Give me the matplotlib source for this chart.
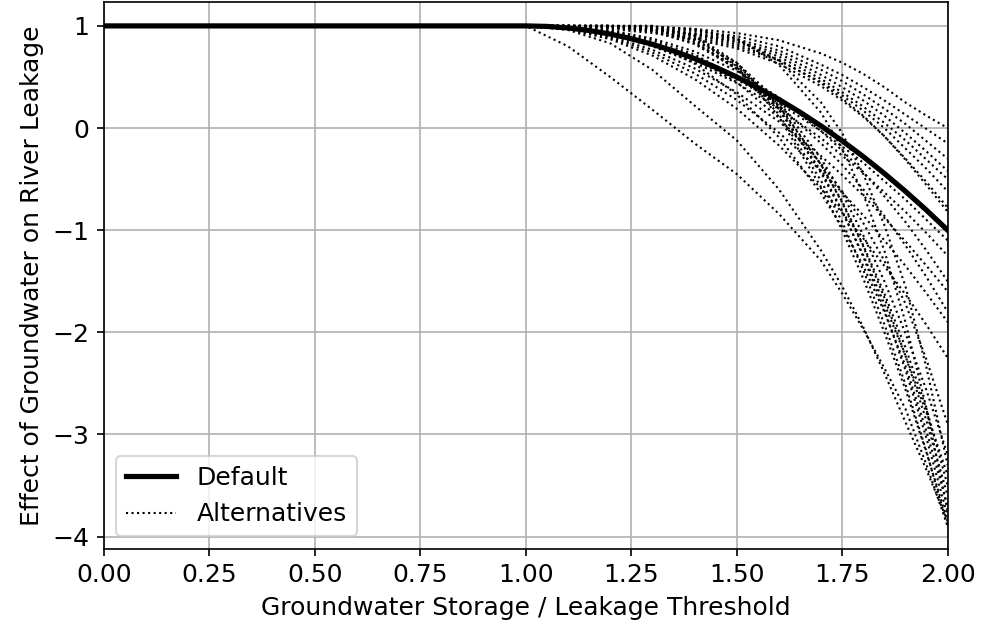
import matplotlib
matplotlib.use('Agg')
import matplotlib.pyplot as plt

# x positions (storage / threshold) at which curves were read
x_default = [0.0, 1.0, 1.05, 1.1, 1.15, 1.2, 1.25, 1.3, 1.35, 1.4, 1.45, 1.5,
             1.55, 1.6, 1.65, 1.7, 1.75, 1.8, 1.85, 1.9, 1.95, 2.0]
y_default = [1.0, 1.0, 0.995, 0.98, 0.955, 0.92, 0.875, 0.82, 0.755, 0.68, 0.595, 0.5,
             0.395, 0.28, 0.155, 0.02, -0.125, -0.28, -0.445, -0.62, -0.805, -1.0]

x_alt = [0.0, 1.0, 1.1, 1.2, 1.3, 1.4, 1.5, 1.6, 1.7, 1.75, 1.8, 1.85, 1.9, 1.95, 2.0]

# alternative curves
alt_a = [1, 1, 0.80, 0.50, 0.18, -0.15, -0.45, -0.84, -1.3, -1.62, -1.97, -2.35, -2.75, -3.3, -3.9]
alt_b = [1, 1, 0.96, 0.83, 0.57, 0.22, -0.12, -0.6, -1.2, -1.55, -1.95, -2.4, -2.88, -3.35, -3.85]

# gentle group, ends between 0 and -0.8
alt_u1 = [1, 1, 1, 1, 0.99, 0.97, 0.93, 0.86, 0.73, 0.64, 0.53, 0.40, 0.25, 0.12, 0.0]
alt_u2 = [1, 1, 1, 0.99, 0.98, 0.95, 0.9, 0.8, 0.62, 0.52, 0.4, 0.27, 0.13, -0.01, -0.15]
alt_u3 = [1, 1, 1, 0.99, 0.97, 0.93, 0.87, 0.76, 0.57, 0.46, 0.33, 0.19, 0.04, -0.13, -0.3]
alt_u4 = [1, 1, 0.995, 0.985, 0.96, 0.92, 0.85, 0.73, 0.52, 0.40, 0.27, 0.12, -0.05, -0.23, -0.42]
alt_u5 = [1, 1, 1, 0.99, 0.97, 0.92, 0.84, 0.70, 0.48, 0.35, 0.21, 0.05, -0.12, -0.31, -0.5]
alt_u6 = [1, 1, 0.995, 0.98, 0.95, 0.89, 0.80, 0.66, 0.45, 0.32, 0.17, 0.0, -0.2, -0.4, -0.62]
alt_u7 = [1, 1, 0.99, 0.97, 0.93, 0.87, 0.78, 0.63, 0.41, 0.27, 0.11, -0.08, -0.3, -0.53, -0.78]
alt_u8 = [1, 1, 1, 0.99, 0.96, 0.91, 0.82, 0.67, 0.44, 0.29, 0.12, -0.08, -0.31, -0.56, -0.82]

# middle group, ends between -1.1 and -2.3
alt_m1 = [1, 1, 0.979, 0.916, 0.81, 0.66, 0.475, 0.244, -0.03, -0.18, -0.34, -0.52, -0.7, -0.9, -1.1]
alt_m2 = [1, 1, 0.978, 0.91, 0.8, 0.64, 0.44, 0.19, -0.1, -0.27, -0.44, -0.63, -0.82, -1.03, -1.25]
alt_m3 = [1, 1, 0.992, 0.955, 0.877, 0.75, 0.56, 0.3, -0.03, -0.22, -0.43, -0.67, -0.92, -1.2, -1.5]
alt_m4 = [1, 1, 0.991, 0.95, 0.86, 0.72, 0.5, 0.22, -0.15, -0.36, -0.6, -0.86, -1.15, -1.46, -1.8]
alt_m5 = [1, 1, 0.974, 0.896, 0.766, 0.584, 0.35, 0.064, -0.274, -0.46, -0.66, -0.88, -1.11, -1.35, -1.6]
alt_m6 = [1, 1, 0.968, 0.87, 0.71, 0.48, 0.19, -0.17, -0.59, -0.83, -1.08, -1.35, -1.63, -1.93, -2.25]
alt_m7 = [1, 1, 0.971, 0.884, 0.739, 0.536, 0.275, -0.044, -0.421, -0.63, -0.856, -1.1, -1.35, -1.62, -1.9]

# steep group, ends between -2.9 and -3.9
alt_s1 = [1, 1, 0.99, 0.95, 0.84, 0.68, 0.45, 0.10, -0.35, -0.62, -0.93, -1.3, -1.72, -2.27, -2.9]
alt_s2 = [1, 1, 1, 1, 0.977, 0.869, 0.638, 0.259, -0.30, -0.64, -1.05, -1.50, -2.01, -2.57, -3.2]
alt_s3 = [1, 1, 1, 1, 0.99, 0.96, 0.87, 0.66, 0.25, -0.05, -0.45, -0.95, -1.55, -2.35, -3.3]
alt_s4 = [1, 1, 1, 1, 1, 0.91, 0.64, 0.19, -0.44, -0.82, -1.245, -1.72, -2.23, -2.79, -3.4]
alt_s5 = [1, 1, 1, 1, 0.976, 0.862, 0.621, 0.223, -0.361, -0.72, -1.15, -1.62, -2.15, -2.75, -3.5]
alt_s6 = [1, 1, 1, 0.994, 0.95, 0.83, 0.6, 0.21, -0.36, -0.73, -1.16, -1.66, -2.23, -2.87, -3.6]
alt_s7 = [1, 1, 0.99, 0.94, 0.83, 0.63, 0.33, -0.09, -0.64, -0.97, -1.35, -1.8, -2.33, -2.97, -3.7]
alt_s8 = [1, 1, 1, 1, 0.995, 0.97, 0.88, 0.62, 0.15, -0.2, -0.65, -1.2, -1.9, -2.75, -3.75]
alt_s9 = [1, 1, 1, 0.993, 0.947, 0.822, 0.579, 0.177, -0.42, -0.81, -1.26, -1.78, -2.37, -3.04, -3.8]
alt_s10 = [1, 1, 1, 1, 1, 0.90, 0.604, 0.109, -0.58, -1.0, -1.475, -2.0, -2.56, -3.18, -3.85]
alt_s11 = [1, 1, 1, 1, 0.973, 0.847, 0.578, 0.134, -0.517, -0.92, -1.39, -1.92, -2.51, -3.17, -3.9]

alternatives = [alt_a, alt_b,
                alt_u1, alt_u2, alt_u3, alt_u4, alt_u5, alt_u6, alt_u7, alt_u8,
                alt_m1, alt_m2, alt_m3, alt_m4, alt_m5, alt_m6, alt_m7,
                alt_s1, alt_s2, alt_s3, alt_s4, alt_s5, alt_s6, alt_s7, alt_s8,
                alt_s9, alt_s10, alt_s11]

plt.rcParams['font.size'] = 12

fig, ax = plt.subplots(figsize=(6.54, 4.22), dpi=150)
fig.subplots_adjust(left=0.106, right=0.966, top=0.997, bottom=0.133)

for i, ys in enumerate(alternatives):
    ax.plot(x_alt, ys, 'k:', linewidth=1, label='Alternatives' if i == 0 else None, zorder=2)
ax.plot(x_default, y_default, 'k-', linewidth=2.5, label='Default', zorder=3)

ax.set_xlim(0, 2)
ax.set_ylim(-4.12, 1.235)
ax.set_xticks([0, 0.25, 0.5, 0.75, 1.0, 1.25, 1.5, 1.75, 2.0])
ax.set_yticks([-4, -3, -2, -1, 0, 1])
ax.grid(True)
ax.set_xlabel('Groundwater Storage / Leakage Threshold')
ax.set_ylabel('Effect of Groundwater on River Leakage')

handles, labels = ax.get_legend_handles_labels()
ax.legend(handles[::-1], labels[::-1], loc='lower left')

fig.savefig('out.png', dpi=150)
